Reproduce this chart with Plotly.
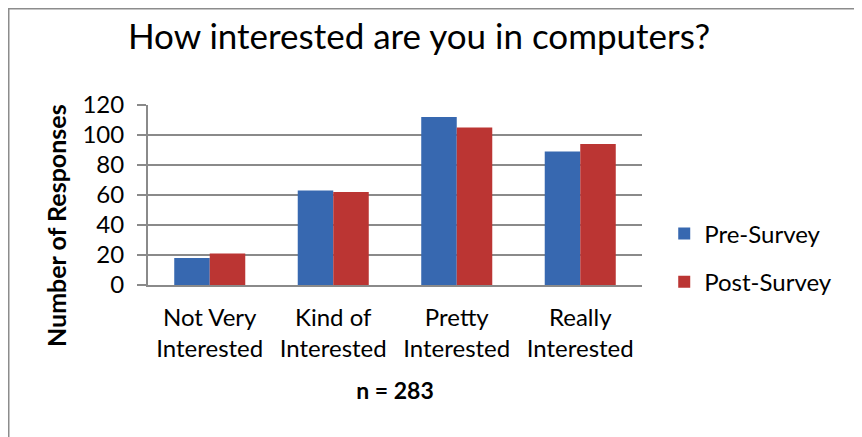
import plotly.graph_objects as go

# Survey responses
categories = ["Not Very<br>Interested", "Kind of<br>Interested",
              "Pretty<br>Interested", "Really<br>Interested"]
pre_survey = [18, 63, 112, 89]
post_survey = [21, 62, 105, 94]
y_ticks = [0, 20, 40, 60, 80, 100, 120]

FONT = "Lato"
GRID = "#8a8a8a"

# the page body adds an 8px offset, so the figure is drawn 8px smaller
W, H = 854, 429
L, R, T, B = 140, 220, 97, 152
plot_w = W - L - R
plot_h = H - T - B

fig = go.Figure()
fig.add_trace(go.Bar(
    x=categories, y=pre_survey, name="Pre-Survey",
    marker=dict(color="#3768b0", line=dict(width=0)),
    legendgroup="pre",
))
fig.add_trace(go.Bar(
    x=categories, y=post_survey, name="Post-Survey",
    marker=dict(color="#bb3533", line=dict(width=0)),
    legendgroup="post",
))

# outer chart border (Excel chart area frame)
fig.add_shape(
    type="rect", xref="paper", yref="paper",
    x0=(0.75 - L) / plot_w, x1=(849 - L) / plot_w,
    y0=(T + plot_h - 440) / plot_h, y1=(T + plot_h - 0.75) / plot_h,
    line=dict(color="#8c8c8c", width=1.5), fillcolor="rgba(0,0,0,0)",
    layer="below",
)

# y-axis title sits lower than the plot centre in the original, so use an annotation
fig.add_annotation(
    text="<b>Number of Responses</b>", textangle=-90, showarrow=False,
    xref="paper", yref="paper",
    x=(48 - L) / plot_w, y=(T + plot_h - 218) / plot_h,
    xanchor="center", yanchor="middle",
    font=dict(family=FONT, size=25, color="black"),
)

fig.update_layout(
    width=W, height=H,
    margin=dict(l=L, r=R, t=T, b=B),
    paper_bgcolor="white", plot_bgcolor="white",
    font=dict(family=FONT, color="black"),
    title=dict(
        text="How interested are you in computers?",
        font=dict(family=FONT, size=35, color="black"),
        x=411 / W, xref="container", xanchor="center",
        y=1 - 29 / H, yref="container", yanchor="middle",
    ),
    barmode="group", bargap=0.425, bargroupgap=0,
    legend=dict(
        x=1.045, xanchor="left", y=0.15, yanchor="middle",
        font=dict(family=FONT, size=24),
        traceorder="grouped", tracegroupgap=14,
        itemwidth=30,
    ),
    xaxis=dict(
        showline=True, linecolor=GRID, linewidth=2,
        ticks="", tickfont=dict(family=FONT, size=24),
        ticklabelstandoff=10,
        title=dict(text="<b>n = 283</b>", font=dict(family=FONT, size=23),
                   standoff=22),
    ),
    yaxis=dict(
        range=[0, 120], tickvals=y_ticks,
        showgrid=True, gridcolor=GRID, gridwidth=2,
        showline=True, linecolor=GRID, linewidth=2,
        ticks="outside", ticklen=9, tickcolor=GRID, tickwidth=2,
        tickfont=dict(family=FONT, size=24),
        ticklabelstandoff=8,
        zeroline=False,
    ),
)

fig.write_html("out.html")
